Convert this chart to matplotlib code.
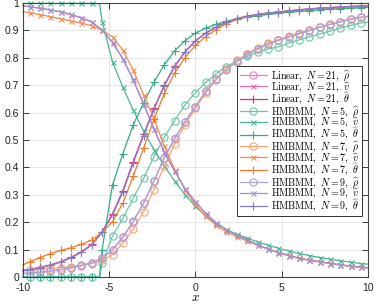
import matplotlib
matplotlib.use('Agg')
import matplotlib.pyplot as plt

plt.rcParams['mathtext.fontset'] = 'cm'
plt.rcParams['font.family'] = ['Liberation Sans', 'DejaVu Sans']
plt.rcParams['axes.unicode_minus'] = False

# shared x grid (markers at -9.6 ... 9.6, line ends at -10 and 10)
X = [-10, -9.6, -9.0, -8.4, -7.8, -7.2, -6.6, -6.0, -5.4, -4.8, -4.2, -3.6, -3.0,
     -2.4, -1.8, -1.2, -0.6, 0.0, 0.6, 1.2, 1.8, 2.4, 3.0, 3.6, 4.2, 4.8, 5.4,
     6.0, 6.6, 7.2, 7.8, 8.4, 9.0, 9.6, 10]
# grid for HMBMM N=5 (extra point at the jump)
X5 = [-10, -9.6, -9.0, -8.4, -7.8, -7.2, -6.6, -6.0, -5.55, -5.4, -4.8, -4.2, -3.6,
      -3.0, -2.4, -1.8, -1.2, -0.6, 0.0, 0.6, 1.2, 1.8, 2.4, 3.0, 3.6, 4.2, 4.8,
      5.4, 6.0, 6.6, 7.2, 7.8, 8.4, 9.0, 9.6, 10]

lin_rho = [0.012, 0.014, 0.017, 0.021, 0.026, 0.033, 0.041, 0.051, 0.068, 0.099, 0.145,
           0.202, 0.269, 0.350, 0.435, 0.505, 0.567, 0.622, 0.678, 0.722, 0.758, 0.787,
           0.812, 0.833, 0.850, 0.864, 0.876, 0.888, 0.900, 0.912, 0.922, 0.932, 0.941,
           0.948, 0.951]
lin_v = [0.990, 0.986, 0.980, 0.974, 0.967, 0.957, 0.945, 0.930, 0.900, 0.855, 0.795,
         0.719, 0.630, 0.540, 0.455, 0.387, 0.322, 0.275, 0.232, 0.198, 0.173, 0.153,
         0.135, 0.118, 0.103, 0.090, 0.079, 0.069, 0.062, 0.056, 0.050, 0.045, 0.040,
         0.036, 0.034]
lin_t = [0.025, 0.028, 0.035, 0.044, 0.056, 0.072, 0.092, 0.119, 0.165, 0.230, 0.315,
         0.421, 0.520, 0.615, 0.700, 0.770, 0.822, 0.862, 0.890, 0.912, 0.930, 0.943,
         0.952, 0.958, 0.963, 0.967, 0.971, 0.975, 0.978, 0.981, 0.983, 0.985, 0.987,
         0.989, 0.990]

n5_rho = [0.0, 0.0, 0.0, 0.0, 0.0, 0.0, 0.0, 0.0, 0.0, 0.050, 0.150, 0.214, 0.287,
          0.360, 0.439, 0.510, 0.571, 0.628, 0.673, 0.710, 0.742, 0.768, 0.788, 0.805,
          0.820, 0.832, 0.840, 0.853, 0.865, 0.876, 0.887, 0.897, 0.908, 0.918, 0.927,
          0.930]
n5_v = [0.998, 0.998, 0.998, 0.998, 0.998, 0.998, 0.998, 0.998, 0.997, 0.932, 0.785,
        0.692, 0.609, 0.533, 0.465, 0.405, 0.350, 0.300, 0.258, 0.222, 0.195, 0.173,
        0.156, 0.142, 0.128, 0.116, 0.105, 0.095, 0.086, 0.078, 0.071, 0.065, 0.059,
        0.054, 0.049, 0.047]
n5_t = [0.0, 0.0, 0.0, 0.0, 0.0, 0.0, 0.0, 0.0, 0.0, 0.100, 0.336, 0.450, 0.555,
        0.635, 0.710, 0.775, 0.825, 0.862, 0.890, 0.908, 0.922, 0.933, 0.942, 0.948,
        0.953, 0.958, 0.962, 0.966, 0.969, 0.972, 0.975, 0.977, 0.979, 0.981, 0.983,
        0.984]

n7_rho = [0.022, 0.025, 0.028, 0.031, 0.034, 0.038, 0.043, 0.049, 0.062, 0.082, 0.123,
          0.174, 0.238, 0.318, 0.405, 0.487, 0.555, 0.615, 0.672, 0.720, 0.760, 0.790,
          0.815, 0.836, 0.853, 0.866, 0.878, 0.890, 0.901, 0.912, 0.922, 0.932, 0.941,
          0.948, 0.951]
n7_v = [0.968, 0.965, 0.957, 0.950, 0.942, 0.934, 0.926, 0.917, 0.900, 0.876, 0.828,
        0.755, 0.664, 0.578, 0.478, 0.392, 0.318, 0.263, 0.222, 0.188, 0.165, 0.147,
        0.131, 0.116, 0.102, 0.089, 0.078, 0.068, 0.061, 0.055, 0.049, 0.044, 0.039,
        0.035, 0.033]
n7_t = [0.044, 0.055, 0.071, 0.085, 0.097, 0.107, 0.119, 0.135, 0.163, 0.202, 0.270,
        0.368, 0.470, 0.575, 0.670, 0.745, 0.800, 0.845, 0.877, 0.903, 0.924, 0.940,
        0.950, 0.957, 0.962, 0.966, 0.970, 0.974, 0.977, 0.980, 0.982, 0.984, 0.986,
        0.988, 0.989]

n9_rho = [0.013, 0.015, 0.018, 0.022, 0.027, 0.034, 0.042, 0.052, 0.069, 0.100, 0.146,
          0.203, 0.270, 0.351, 0.436, 0.506, 0.567, 0.622, 0.677, 0.721, 0.757, 0.786,
          0.811, 0.832, 0.849, 0.863, 0.875, 0.887, 0.899, 0.911, 0.921, 0.931, 0.940,
          0.947, 0.950]
n9_v = [0.990, 0.986, 0.981, 0.975, 0.968, 0.958, 0.946, 0.931, 0.901, 0.857, 0.797,
        0.721, 0.632, 0.541, 0.455, 0.386, 0.321, 0.274, 0.231, 0.197, 0.172, 0.152,
        0.134, 0.117, 0.102, 0.089, 0.078, 0.068, 0.061, 0.055, 0.049, 0.044, 0.039,
        0.035, 0.033]
n9_t = [0.023, 0.026, 0.033, 0.042, 0.054, 0.070, 0.090, 0.117, 0.163, 0.226, 0.310,
        0.416, 0.516, 0.612, 0.697, 0.768, 0.821, 0.861, 0.889, 0.911, 0.929, 0.942,
        0.951, 0.958, 0.963, 0.967, 0.971, 0.975, 0.978, 0.981, 0.983, 0.985, 0.987,
        0.989, 0.990]

labels = [r'$\mathrm{Linear},\ N=21,\ \widehat{\rho}$',
          r'$\mathrm{Linear},\ N=21,\ \widehat{v}$',
          r'$\mathrm{Linear},\ N=21,\ \widehat{\theta}$',
          r'$\mathrm{HMBMM},\ N=5,\ \widehat{\rho}$',
          r'$\mathrm{HMBMM},\ N=5,\ \widehat{v}$',
          r'$\mathrm{HMBMM},\ N=5,\ \widehat{\theta}$',
          r'$\mathrm{HMBMM},\ N=7,\ \widehat{\rho}$',
          r'$\mathrm{HMBMM},\ N=7,\ \widehat{v}$',
          r'$\mathrm{HMBMM},\ N=7,\ \widehat{\theta}$',
          r'$\mathrm{HMBMM},\ N=9,\ \widehat{\rho}$',
          r'$\mathrm{HMBMM},\ N=9,\ \widehat{v}$',
          r'$\mathrm{HMBMM},\ N=9,\ \widehat{\theta}$']

colors = ['#f07cc0', '#ec6ab6', '#e7298a',
          '#6cc5a8', '#4cb594', '#36aa85',
          '#fca277', '#f7894d', '#f07a2a',
          '#aaa4d6', '#9c96ce', '#857ec0']

me_std = list(range(1, len(X) - 1))
me_5 = [i for i in range(1, len(X5) - 1) if X5[i] != -5.55]

series = [(X, lin_rho, me_std), (X, lin_v, me_std), (X, lin_t, me_std),
          (X5, n5_rho, me_5), (X5, n5_v, me_5), (X5, n5_t, me_5),
          (X, n7_rho, me_std), (X, n7_v, me_std), (X, n7_t, me_std),
          (X, n9_rho, me_std), (X, n9_v, me_std), (X, n9_t, me_std)]
markers = ['o', 'x', '+'] * 4
msizes = {'o': 5.2, 'x': 3.6, '+': 5.4}

fig = plt.figure(figsize=(3.74, 3.04), dpi=100)
ax = fig.add_axes([0.0607, 0.0888, 0.9235, 0.9016])

for (xs, ys, me), m, c, lab in zip(series, markers, colors, labels):
    ax.plot(xs, ys, color=c, lw=0.9, marker=m, markevery=me, markersize=msizes[m],
            markerfacecolor='none', markeredgecolor=c, markeredgewidth=0.8,
            label=lab, clip_on=False)

ax.set_xlim(-10, 10)
ax.set_ylim(0, 1)
ax.set_xticks([-10, -5, 0, 5, 10])
ax.set_yticks([0, 0.1, 0.2, 0.3, 0.4, 0.5, 0.6, 0.7, 0.8, 0.9, 1])
ax.set_yticklabels(['0', '0.1', '0.2', '0.3', '0.4', '0.5', '0.6', '0.7', '0.8', '0.9', '1'])
ax.set_xticklabels(['-10', '-5', '0', '5', '10'])
ax.tick_params(direction='in', top=True, right=True, length=4, width=0.6,
               labelsize=7.5, colors='#222222')
ax.tick_params(axis='y', pad=2.5)
ax.tick_params(axis='x', pad=4.5)
ax.grid(True, color='#e2e2e2', lw=0.6)
ax.set_axisbelow(True)
for s in ax.spines.values():
    s.set_color('#444444')
    s.set_linewidth(0.8)

ax.set_xlabel('$x$', fontsize=9.5, labelpad=-1)

leg = ax.legend(loc='upper right', bbox_to_anchor=(0.982, 0.77), fontsize=7.2,
                frameon=True, fancybox=False, edgecolor='#333333', framealpha=1,
                handlelength=2.7, handletextpad=0.4, borderpad=0.25,
                labelspacing=-0.28, borderaxespad=0)
leg.get_frame().set_linewidth(0.7)

fig.savefig('out.png', dpi=100)
